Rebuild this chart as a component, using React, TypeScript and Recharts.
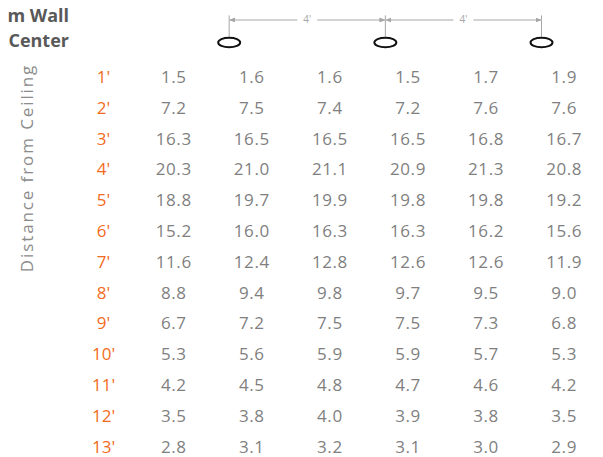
import React from 'react'
import { ScatterChart, Scatter, XAxis, YAxis, ReferenceLine } from 'recharts'

const FONT = "'Open Sans', sans-serif"

// rows: distance from ceiling (ft)
const depths = [1, 2, 3, 4, 5, 6, 7, 8, 9, 10, 11, 12, 13]

// one array per column, top to bottom
const col1 = [1.5, 7.2, 16.3, 20.3, 18.8, 15.2, 11.6, 8.8, 6.7, 5.3, 4.2, 3.5, 2.8]
const col2 = [1.6, 7.5, 16.5, 21.0, 19.7, 16.0, 12.4, 9.4, 7.2, 5.6, 4.5, 3.8, 3.1]
const col3 = [1.6, 7.4, 16.5, 21.1, 19.9, 16.3, 12.8, 9.8, 7.5, 5.9, 4.8, 4.0, 3.2]
const col4 = [1.5, 7.2, 16.5, 20.9, 19.8, 16.3, 12.6, 9.7, 7.5, 5.9, 4.7, 3.9, 3.1]
const col5 = [1.7, 7.6, 16.8, 21.3, 19.8, 16.2, 12.6, 9.5, 7.3, 5.7, 4.6, 3.8, 3.0]
const col6 = [1.9, 7.6, 16.7, 20.8, 19.2, 15.6, 11.9, 9.0, 6.8, 5.3, 4.2, 3.5, 2.9]

// fixture positions, in column units
const fixtures = [0.71, 2.71, 4.71]
const spanLabels = ["4'", "4'"]

const columns = [col1, col2, col3, col4, col5, col6]
const cells = columns.flatMap((vals, c) =>
  vals.map((v, r) => ({ x: c, y: depths[r], value: v }))
)

const HEADER_Y = -0.12
const TICK_TOP = -1.0
const TICK_BOTTOM = -0.31
const DIM_Y = -0.85

const fixtureData = fixtures.map((f) => ({ x: f, y: HEADER_Y }))

const NumberCell = (props: any) => {
  const { cx, cy, payload } = props
  return (
    <text
      x={cx}
      y={cy + 6}
      textAnchor="middle"
      fontFamily={FONT}
      fontSize={17}
      letterSpacing={0.6}
      fill="#7f7f7f"
    >
      {payload.value.toFixed(1)}
    </text>
  )
}

const Fixture = (props: any) => {
  const { cx, cy } = props
  return <ellipse cx={cx} cy={cy} rx={11} ry={4.8} fill="#fff" stroke="#111" strokeWidth={2} />
}

const DimLabel = (props: any) => {
  const { viewBox, value } = props
  if (!viewBox) return null
  const cx = viewBox.x + (viewBox.width || 0) / 2
  const cy = viewBox.y + (viewBox.height || 0) / 2
  return (
    <g>
      <rect x={cx - 10} y={cy - 6} width={20} height={12} fill="#fff" />
      <text x={cx} y={cy + 3.5} textAnchor="middle" fontFamily={FONT} fontSize={10} fill="#a6a6a6">
        {value}
      </text>
    </g>
  )
}

export default function App() {
  return (
    <div style={{ position: 'absolute', left: 0, top: 0, width: 603, height: 457, background: '#fff' }}>
      <ScatterChart width={603} height={457} margin={{ top: 12.3, right: 3.7, bottom: 1.2, left: 0 }}>
        <defs>
          <marker
            id="dimArrow"
            viewBox="0 0 6 5"
            refX={6}
            refY={2.5}
            markerWidth={6}
            markerHeight={5}
            markerUnits="userSpaceOnUse"
            orient="auto-start-reverse"
          >
            <path d="M0,0 L6,2.5 L0,5 z" fill="#a6a6a6" />
          </marker>
        </defs>
        <XAxis type="number" dataKey="x" domain={[-0.45, 5.45]} hide allowDataOverflow />
        <YAxis
          type="number"
          dataKey="y"
          domain={[-1.1, 13.3]}
          reversed
          allowDataOverflow
          ticks={depths}
          interval={0}
          tickFormatter={(v) => `${v}'`}
          axisLine={false}
          tickLine={false}
          tickSize={0}
          tickMargin={35}
          width={138.6}
          tick={{ fill: '#f26b22', fontSize: 17, fontFamily: FONT, textAnchor: 'middle' }}
        />
        {fixtures.map((f, i) => (
          <ReferenceLine
            key={`tick-${i}`}
            segment={[{ x: f, y: TICK_TOP }, { x: f, y: TICK_BOTTOM }]}
            stroke="#a6a6a6"
            strokeWidth={1}
          />
        ))}
        {spanLabels.map((lbl, i) => (
          <ReferenceLine
            key={`dim-${i}`}
            segment={[{ x: fixtures[i], y: DIM_Y }, { x: fixtures[i + 1], y: DIM_Y }]}
            stroke="#c4c4c4"
            strokeWidth={1.5}
            markerStart="url(#dimArrow)"
            markerEnd="url(#dimArrow)"
            label={{ value: lbl, content: DimLabel }}
          />
        ))}
        <Scatter data={fixtureData} shape={Fixture} isAnimationActive={false} />
        <Scatter data={cells} shape={NumberCell} isAnimationActive={false} />
        <text x={69} y={22} textAnchor="end" fontFamily={FONT} fontWeight="bold" fontSize={18} fill="#595959">
          m Wall
        </text>
        <text x={69} y={47} textAnchor="end" fontFamily={FONT} fontWeight="bold" fontSize={18} fill="#595959">
          Center
        </text>
        <text
          transform="translate(33, 168) rotate(-90)"
          textAnchor="middle"
          fontFamily={FONT}
          fontSize={17}
          letterSpacing={1.9}
          fill="#8c8c8c"
        >
          Distance from Ceiling
        </text>
      </ScatterChart>
    </div>
  )
}
